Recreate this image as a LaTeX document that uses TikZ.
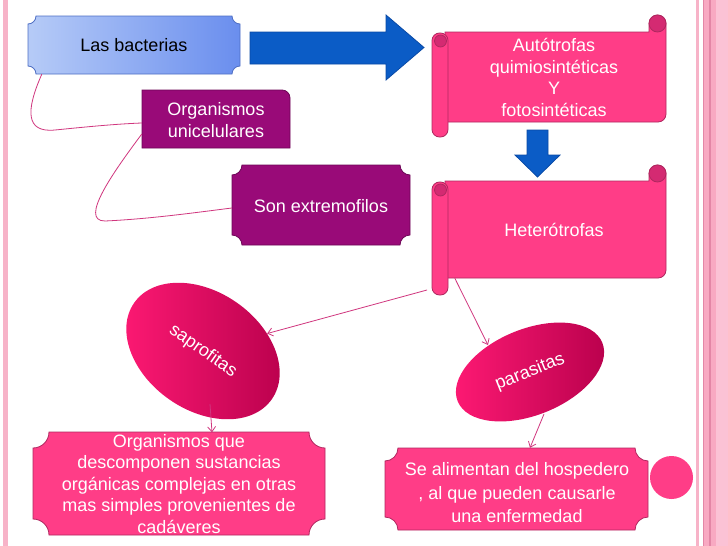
\documentclass[tikz,border=0pt]{standalone}
\usepackage{fontspec}
\setmainfont{Liberation Sans}
\usetikzlibrary{shapes.geometric,arrows.meta}
\definecolor{hotpink}{HTML}{FF3D87}
\definecolor{pinkedge}{HTML}{B02860}
\definecolor{curl}{HTML}{D42A72}
\definecolor{purp}{HTML}{990A78}
\definecolor{purpedge}{HTML}{6E0757}
\definecolor{arrowblue}{HTML}{0B5CC6}
\definecolor{arrowedge}{HTML}{0A4AA6}
\definecolor{bluelight}{HTML}{B6CBF7}
\definecolor{bluedark}{HTML}{6A8EEE}
\definecolor{blueedge}{HTML}{4F6FC4}
\definecolor{linkpink}{HTML}{D0367E}
\definecolor{ellL}{HTML}{FF1A74}
\definecolor{ellR}{HTML}{B8004C}
\definecolor{bordA}{HTML}{F7B3C8}
\definecolor{bordB}{HTML}{F8A9C2}
\definecolor{bordC}{HTML}{E386A6}
\definecolor{bordD}{HTML}{FBC2D5}
\newcommand\plaque[6][]{%
  \path[#1] (#2+#6,#3) -- (#4-#6,#3) arc[start angle=180,end angle=90,radius=#6]
    -- (#4,#5-#6) arc[start angle=270,end angle=180,radius=#6]
    -- (#2+#6,#5) arc[start angle=0,end angle=-90,radius=#6]
    -- (#2,#3+#6) arc[start angle=90,end angle=0,radius=#6] -- cycle;}
\newcommand\scrollshape[4]{%
  \path[pinkbox] (445,#2) -- (649,#2) -- (649,#1+8.5) arc[start angle=180,end angle=360,radius=8.5]
    -- (666,#3-8) arc[start angle=0,end angle=90,radius=8] -- (445,#3) -- cycle;
  \path[fill=curl,draw=pinkedge,line width=0.8pt] (657.5,#1+8.5) circle[radius=8.5];
  \path[pinkbox,rounded corners=7.5pt] (432,#2+1) rectangle (448,#4);
  \path[fill=curl,draw=pinkedge,line width=0.8pt] (440.5,#2+9) circle[radius=6];}
\begin{document}
\begin{tikzpicture}[x=1pt,y=-1pt,
  txt/.style={font=\fontsize{18}{21.5}\selectfont, align=center, inner sep=0pt},
  link/.style={draw=linkpink, line width=0.8pt},
  tip/.style={-{Straight Barb[length=5pt,width=8pt]}},
  pinkbox/.style={fill=hotpink, draw=pinkedge, line width=0.8pt},
  purpbox/.style={fill=purp, draw=purpedge, line width=0.8pt},
  bluearrow/.style={fill=arrowblue, draw=arrowedge, line width=0.8pt},
  oval/.style={ellipse, inner sep=0pt, left color=ellL, right color=ellR, draw=none, text=white,
    font=\fontsize{18}{21.5}\selectfont}]
\useasboundingbox (0,0) rectangle (728,546);
\fill[white] (0,0) rectangle (728,546);
% page borders
\fill[bordA] (3,0) rectangle (7.5,546);
\fill[bordA] (696,0) rectangle (698.5,546);
\fill[bordB] (703,0) rectangle (716,546);
\fill[bordC] (703,0) rectangle (704,546);
\fill[bordC] (708.5,0) rectangle (710.5,546);
\fill[bordD] (716,0) rectangle (728,546);

% Las bacterias
\plaque[left color=bluelight, right color=bluedark, draw=blueedge, line width=0.8pt]{28}{16}{240}{74}{8}
\node[txt, minimum width=212pt, minimum height=58pt] (bact) at (134,45) {Las bacterias};

% big right arrow
\path[bluearrow] (250,32) -- (386,32) -- (386,15) -- (424,47.5) -- (386,80) -- (386,64) -- (250,64) -- cycle;

% Organismos unicelulares
\path[purpbox] (142,90) -- (282,90) arc[start angle=270,end angle=360,radius=8] -- (290,148) -- (142,148) -- cycle;
\node[txt, text=white, minimum width=148pt, minimum height=58pt] (org) at (216,120) {Organismos\\unicelulares};

% Son extremofilos
\plaque[purpbox]{232}{165}{410}{245}{10}
\node[txt, text=white, minimum width=178pt, minimum height=80pt] (son) at (321,206) {Son extremofilos};

% scrolls
\scrollshape{15}{32}{122}{137}
\node[txt, text=white, minimum width=222pt, minimum height=90pt] (auto) at (554,77.5) {Autótrofas\\quimiosintéticas\\Y\\fotosintéticas};
\path[bluearrow] (527,130) -- (548,130) -- (548,155) -- (560,155) -- (537.5,177) -- (515,155) -- (527,155) -- cycle;
\scrollshape{165}{181}{278}{295}
\node[txt, text=white, minimum width=222pt, minimum height=97pt] (hetero) at (554,229.5) {Heterótrofas};

% ovals
\node[oval, minimum width=168pt, minimum height=118pt, rotate=-35] (sap) at (203,351) {saprofitas};
\node[oval, minimum width=156pt, minimum height=86pt, rotate=22] (par) at (530,372) {parasitas};

% bottom boxes
\plaque[pinkbox]{33}{432}{325}{535}{16}
\node[txt, text=white, minimum width=292pt, minimum height=103pt] (orgq) at (179,484)
  {Organismos que\\descomponen sustancias\\orgánicas complejas en otras\\mas simples provenientes de\\cadáveres};
\plaque[pinkbox]{385}{448}{648}{530}{13}
\node[txt, font=\fontsize{18}{23.5}\selectfont, text=white, minimum width=263pt, minimum height=90pt] (se) at (517,493)
  {Se alimentan del hospedero\\, al que pueden causarle\\una enfermedad};
\fill[hotpink] (671.5,477.5) circle[radius=21.5];

% connectors
\draw[link] ([xshift=14pt]bact.south west) .. controls (26,110) and (25,133) .. (55,130)
  .. controls (85,127) and (115,124) .. ([yshift=-3pt]org.west);
\draw[link] ([yshift=-14pt]org.west) .. controls (115,170) and (78,221) .. (105,221)
  .. controls (150,219) and (200,212) .. ([yshift=-2pt]son.west);
\coordinate (h1) at (427,290);
\coordinate (p1) at (488,345);
\coordinate (s1) at (210,404);
\coordinate (p2) at (544,414);
\draw[link,tip] (h1) -- (sap);
\draw[link,tip] ([xshift=12pt]hetero.south west) -- (p1);
\draw[link,tip] (s1) -- ([xshift=33pt]orgq.north);
\draw[link,tip] (p2) -- ([xshift=13pt]se.north);
\end{tikzpicture}
\end{document}
